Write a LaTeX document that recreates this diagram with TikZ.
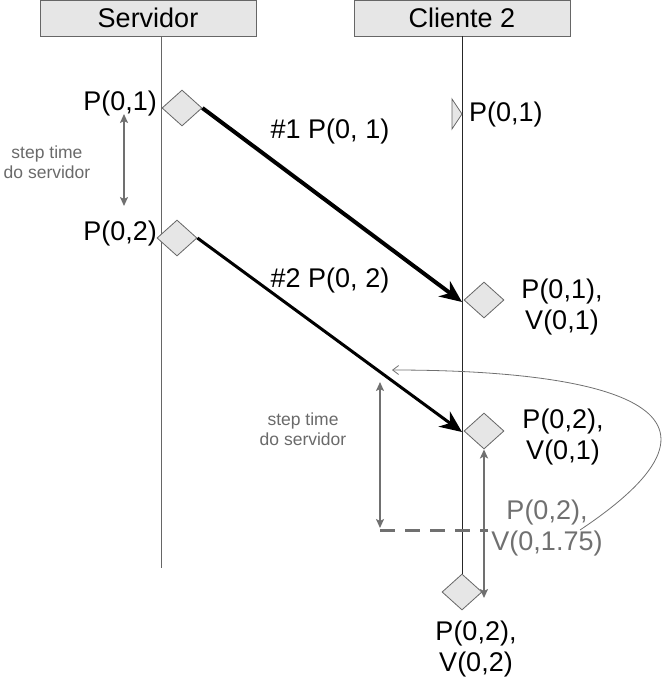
\documentclass[tikz,border=0pt]{standalone}
\usepackage{fontspec}
\setmainfont{Liberation Sans}
\usetikzlibrary{shapes.geometric,arrows.meta}
\definecolor{boxfill}{HTML}{E6E6E6}
\definecolor{boxline}{HTML}{666666}
\definecolor{grayc}{HTML}{707070}
\definecolor{graytext}{HTML}{6A6A6A}
\tikzset{
  header/.style={draw=boxline, fill=boxfill, line width=1pt, minimum width=216pt, minimum height=36pt, inner sep=0pt, font=\fontsize{27}{31}\selectfont},
  dia/.style={diamond, draw=boxline, fill=boxfill, line width=0.8pt, minimum width=40pt, minimum height=36pt, inner sep=0pt},
  big/.style={font=\fontsize{27}{31}\selectfont, inner sep=0pt, align=center},
  small/.style={font=\fontsize{17.5}{20}\selectfont, text=graytext, inner sep=0pt, align=center},
  msg/.style={line width=#1, -{Stealth[length=22pt, width=19pt, inset=7pt]}},
  gapline/.style={draw=grayc, line width=2pt, {Stealth[length=9pt,width=8pt,inset=2pt]}-{Stealth[length=9pt,width=8pt,inset=2pt]}},
}
\begin{document}
\begin{tikzpicture}[x=1pt,y=1pt]
\useasboundingbox (0,0) rectangle (665,-680);
% headers
\node[header] (srv) at (148,-18) {Servidor};
\node[header] (cli) at (462,-18) {Cliente 2};
% lifelines
\coordinate (s0) at (161,-36);
\coordinate (s1) at (161,-568);
\coordinate (c0) at (462,-36);
\draw[boxline, line width=1pt] (s0) -- (s1);
% diamonds
\node[dia] (d1) at (182,-108) {};
\node[dia] (d2) at (177,-238) {};
\node[dia] (d3) at (484,-300) {};
\node[dia] (d4) at (484,-431) {};
\node[dia] (d5) at (462,-592) {};
\draw[black!85, line width=1pt] (c0) -- (d5.north);
% triangle marker
\draw[boxline, fill=boxfill, line width=0.8pt] (452,-99) -- (462,-114) -- (452,-129) -- cycle;
% labels
\node[big, anchor=east] (l1) at (157,-104) {P(0,1)};
\node[big, anchor=east] (l2) at (157,-234) {P(0,2)};
\node[big] (m1) at (330,-132) {\#1 P(0, 1)};
\node[big] (m2) at (330,-281) {\#2 P(0, 2)};
\node[big, anchor=west] (l3) at (469,-115) {P(0,1)};
\node[big] (l4) at (562,-307) {P(0,1),\\V(0,1)};
\node[big] (l5) at (563,-437) {P(0,2),\\V(0,1)};
\node[big, text=grayc] (l6) at (547,-528) {P(0,2),\\V(0,1.75)};
\node[big] (l7) at (476,-649) {P(0,2),\\V(0,2)};
\node[small] (t1) at (47,-162) {step time\\do servidor};
\node[small] (t2) at (303,-429) {step time\\do servidor};
% messages
\coordinate (a1) at (462,-302);
\coordinate (a2) at (462,-432);
\draw[msg=4pt] (d1.east) -- (a1);
\draw[msg=3pt] (d2.east) -- (a2);
% step arrows
\coordinate (g1a) at (124,-114);
\coordinate (g1b) at (124,-206);
\draw[gapline] (g1a) -- (g1b);
\coordinate (g2a) at (380,-382);
\coordinate (g2b) at (380,-528);
\draw[gapline] (g2a) -- (g2b);
\coordinate (g3b) at (484,-598);
\draw[gapline] (d4.south) -- (g3b);
% dashed
\coordinate (h0) at (380,-530);
\coordinate (h1) at (488,-530);
\draw[grayc, line width=3pt, dash pattern=on 15pt off 10pt] (h0) -- (h1);
% curve
\coordinate (cv0) at (580,-530);
\coordinate (cv1) at (392,-370);
\draw[grayc, line width=0.8pt, -{Straight Barb[length=6pt,width=9pt]}] (cv0) .. controls (775,-400) and (580,-370) .. (cv1);
\end{tikzpicture}
\end{document}
